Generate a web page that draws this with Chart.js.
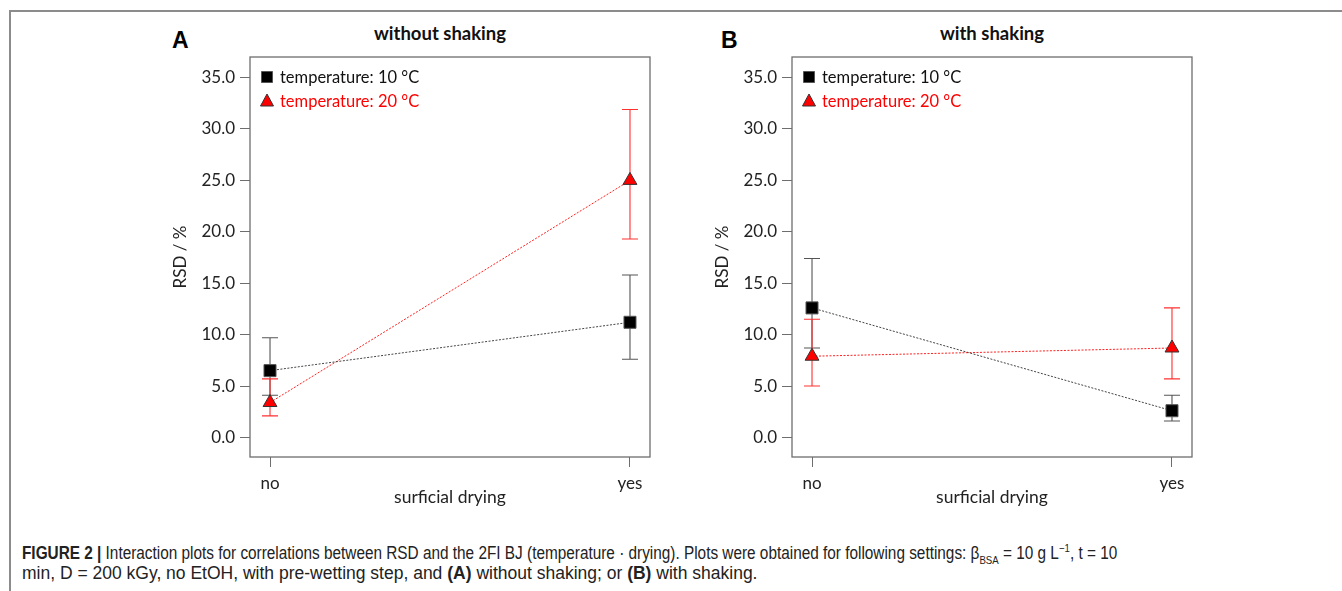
<!DOCTYPE html>
<html>
<head>
<meta charset="utf-8">
<script src="https://cdn.jsdelivr.net/npm/chart.js@4.4.1/dist/chart.umd.min.js"></script>
<style>
  html, body { margin: 0; padding: 0; background: #fff; }
  body { width: 1342px; height: 591px; position: relative; overflow: hidden; }
  .frame { position: absolute; left: 9px; top: 10px; width: 1340px; height: 590px;
           border-top: 2px solid #8c8c8c; border-left: 2px solid #8c8c8c; }
  .panel { position: absolute; top: 20px; width: 520px; height: 490px; }
  .letter { position: absolute; font: bold 23px "Liberation Sans", Arial, sans-serif; color: #000; }
  .ptitle { position: absolute; font: bold 18.5px Lato, sans-serif; color: #111; transform: translateX(-50%); white-space: nowrap; }
  .caption { position: absolute; left: 22px; font: 17.5px "Liberation Sans", sans-serif;
             color: #222; line-height: 20px; white-space: nowrap; transform-origin: left top; }
  .caption b { font-weight: bold; }
  .caption sub, .caption sup { font-size: 11px; line-height: 0; }
</style>
</head>
<body>
<div class="frame"></div>
<div class="letter" style="left:172px; top:27px;">A</div>
<div class="ptitle" style="left:440px; top:22px;">without shaking</div>
<div class="letter" style="left:721px; top:27px;">B</div>
<div class="ptitle" style="left:992px; top:22px;">with shaking</div>
<div class="panel" style="left:160px;"><canvas id="chart-a"></canvas></div>
<div class="panel" style="left:702px;"><canvas id="chart-b"></canvas></div>
<div class="caption" style="top:543px; transform: scaleX(0.877);"><b>FIGURE 2 |</b> Interaction plots for correlations between RSD and the 2FI BJ (temperature · drying). Plots were obtained for following settings: β<sub>BSA</sub> = 10 g L<sup>−1</sup>, t = 10</div>
<div class="caption" style="top:563px;">min, D = 200 kGy, no EtOH, with pre-wetting step, and <b>(A)</b> without shaking; or <b>(B)</b> with shaking.</div>
<script>
  'use strict';

  // ===========================================================================
  // DATA
  // ===========================================================================

  const categories = ['no', 'yes'];
  const yTicks = [0, 5, 10, 15, 20, 25, 30, 35];
  const seriesLabels = ['temperature: 10 °C', 'temperature: 20 °C'];

  // Panel A — without shaking.
  const aTemp10 = [6.5, 11.2];
  const aTemp10Lo = [4.1, 7.6];
  const aTemp10Hi = [9.7, 15.8];
  const aTemp20 = [3.4, 25.0];
  const aTemp20Lo = [2.1, 19.3];
  const aTemp20Hi = [5.7, 31.9];

  // Panel B — with shaking.
  const bTemp10 = [12.6, 2.6];
  const bTemp10Lo = [8.7, 1.6];
  const bTemp10Hi = [17.4, 4.1];
  const bTemp20 = [7.9, 8.7];
  const bTemp20Lo = [5.0, 5.7];
  const bTemp20Hi = [11.5, 12.6];

  // ===========================================================================
  // PLUGINS
  // ===========================================================================

  // Box round the plot area.
  const frameBox = {
    id: 'frameBox',
    afterDraw(chart) {
      const a = chart.chartArea;
      const ctx = chart.ctx;
      ctx.save();
      ctx.strokeStyle = '#6e6e6e';
      ctx.lineWidth = 1.3;
      ctx.strokeRect(a.left, a.top, a.right - a.left, a.bottom - a.top);
      ctx.restore();
    },
  };

  // Vertical error bars behind the markers.
  const errorBars = {
    id: 'errorBars',
    beforeDatasetsDraw(chart) {
      const ctx = chart.ctx;
      const xs = chart.scales.x;
      const ys = chart.scales.y;
      ctx.save();
      chart.data.datasets.forEach(ds => {
        ctx.strokeStyle = ds.errColor;
        ctx.lineWidth = 1.1;
        ds.data.forEach((p, j) => {
          const x = xs.getPixelForValue(p.x);
          const y1 = ys.getPixelForValue(ds.errLo[j]);
          const y2 = ys.getPixelForValue(ds.errHi[j]);
          ctx.beginPath();
          ctx.moveTo(x, y1); ctx.lineTo(x, y2);
          ctx.moveTo(x - 8, y1); ctx.lineTo(x + 8, y1);
          ctx.moveTo(x - 8, y2); ctx.lineTo(x + 8, y2);
          ctx.stroke();
        });
      });
      ctx.restore();
    },
  };

  // Legend drawn inside the plot area, top left.
  const innerLegend = {
    id: 'innerLegend',
    afterDraw(chart) {
      const a = chart.chartArea;
      const ctx = chart.ctx;
      ctx.save();
      ctx.font = '16.5px Lato, sans-serif';
      ctx.textBaseline = 'middle';
      chart.data.datasets.forEach((ds, i) => {
        const cx = a.left + 17;
        const cy = a.top + 20 + i * 24;
        ctx.fillStyle = ds.pointBackgroundColor;
        ctx.strokeStyle = ds.pointBorderColor;
        ctx.lineWidth = 1;
        ctx.beginPath();
        if (ds.pointStyle === 'rect') {
          ctx.rect(cx - 5.5, cy - 5.5, 11, 11);
        } else {
          ctx.moveTo(cx, cy - 7);
          ctx.lineTo(cx + 6.5, cy + 5);
          ctx.lineTo(cx - 6.5, cy + 5);
          ctx.closePath();
        }
        ctx.fill();
        ctx.stroke();
        ctx.fillStyle = ds.legendColor;
        ctx.fillText(ds.label, cx + 13, cy + 1);
      });
      ctx.restore();
    },
  };

  // ===========================================================================
  // CHART
  // ===========================================================================

  function toPoints(vals) {
    return vals.map((v, j) => ({ x: j, y: v }));
  }

  function makeDataset(label, vals, lo, hi, black) {
    return {
      label: label,
      data: toPoints(vals),
      errLo: lo,
      errHi: hi,
      errColor: black ? '#555555' : '#ff3030',
      legendColor: black ? '#111111' : '#ff0000',
      borderColor: black ? '#444444' : '#ff2020',
      borderWidth: 1,
      borderDash: [2, 1.5],
      pointStyle: black ? 'rect' : 'triangle',
      pointRadius: black ? 8.5 : 8,
      pointBackgroundColor: black ? '#000000' : '#ff0000',
      pointBorderColor: black ? '#555555' : '#333333',
      pointBorderWidth: 1,
      showLine: true,
      fill: false,
      tension: 0,
    };
  }

  function renderPanel(canvasId, temp10, lo10, hi10, temp20, lo20, hi20) {
    const ctx = document.getElementById(canvasId);
    const tickFont = { family: 'Lato, sans-serif', size: 17 };

    new Chart(ctx, {
      type: 'scatter',
      data: {
        datasets: [
          makeDataset(seriesLabels[0], temp10, lo10, hi10, true),
          makeDataset(seriesLabels[1], temp20, lo20, hi20, false),
        ],
      },
      options: {
        responsive: true,
        maintainAspectRatio: false,
        animation: false,
        layout: { padding: { top: 37, right: 30, bottom: 0, left: 0 } },
        plugins: {
          legend: { display: false },
          tooltip: { enabled: false },
        },
        scales: {
          x: {
            type: 'linear',
            min: -0.0556,
            max: 1.0556,
            afterBuildTicks: s => { s.ticks = categories.map((c, j) => ({ value: j })); },
            afterFit: s => { s.height = 53; },
            grid: { drawOnChartArea: false, tickLength: 10, color: '#6e6e6e' },
            border: { display: false },
            ticks: {
              font: tickFont, color: '#222', padding: 6, maxRotation: 0,
              callback: v => categories[v],
            },
            title: {
              display: true, text: 'surficial drying', color: '#222',
              font: { family: 'Lato, sans-serif', size: 17.5 }, padding: { top: 0, bottom: 2 },
            },
          },
          y: {
            min: -1.9,
            max: 37,
            afterBuildTicks: s => { s.ticks = yTicks.map(v => ({ value: v })); },
            afterFit: s => { s.width = 90; },
            grid: { drawOnChartArea: false, tickLength: 10, color: '#6e6e6e' },
            border: { display: false },
            ticks: {
              font: tickFont, color: '#222', padding: 5,
              callback: v => v.toFixed(1),
            },
            title: {
              display: true, text: 'RSD / %', color: '#222',
              font: { family: 'Lato, sans-serif', size: 17 }, padding: { top: 10, bottom: 0 },
            },
          },
        },
      },
      plugins: [errorBars, frameBox, innerLegend],
    });
  }

  renderPanel('chart-a', aTemp10, aTemp10Lo, aTemp10Hi, aTemp20, aTemp20Lo, aTemp20Hi);
  renderPanel('chart-b', bTemp10, bTemp10Lo, bTemp10Hi, bTemp20, bTemp20Lo, bTemp20Hi);
</script>
</body>
</html>
